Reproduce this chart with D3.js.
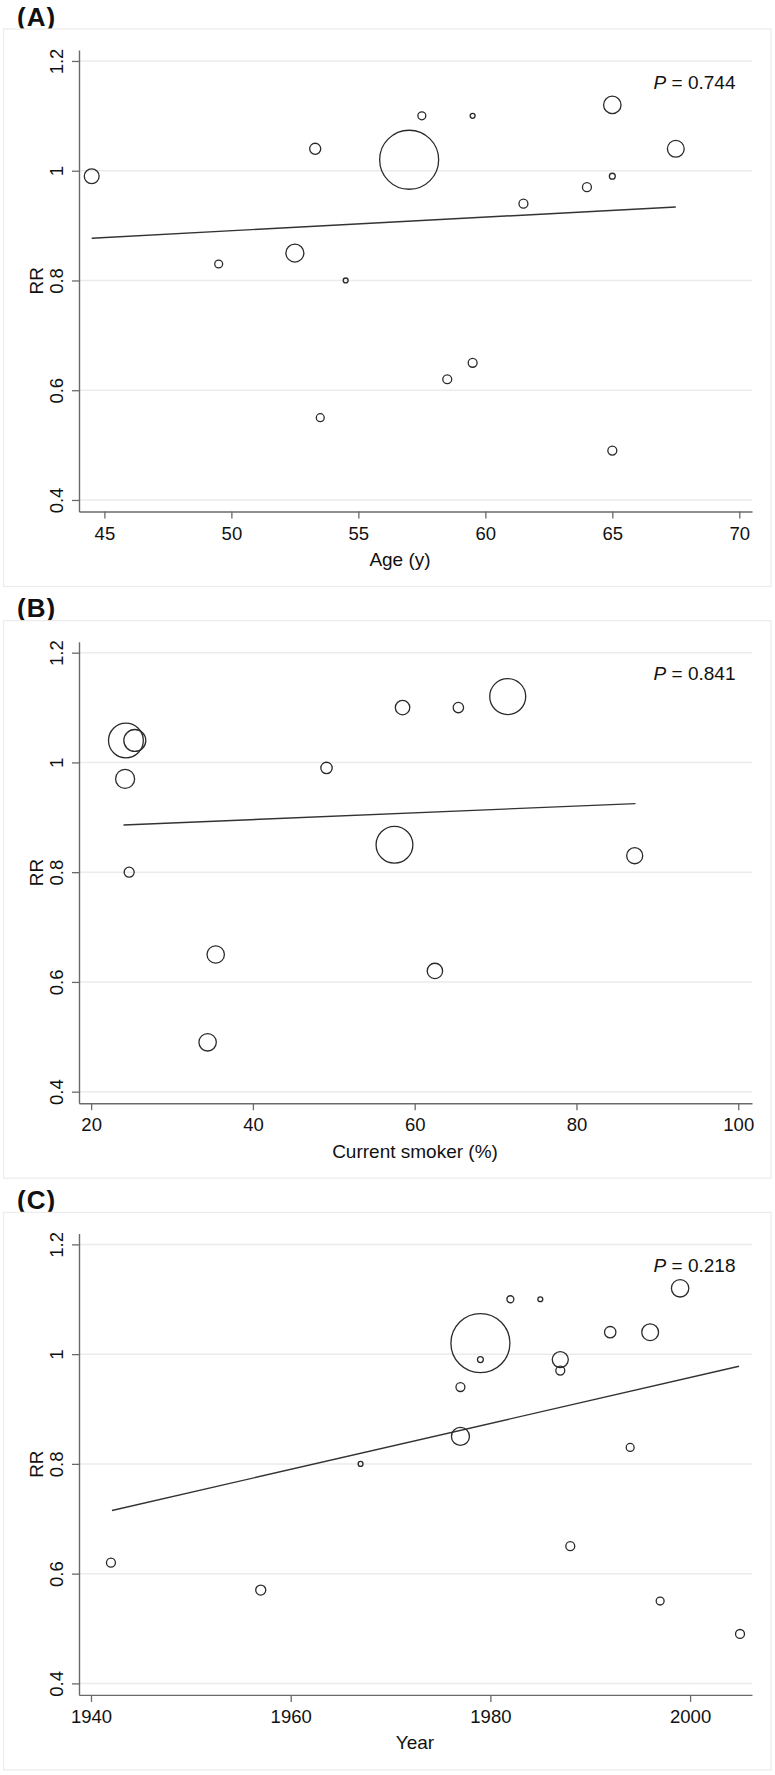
<html>
<head>
<meta charset="utf-8">
<script src="https://d3js.org/d3.v7.min.js"></script>
<style>
  body { margin: 0; background: #fff; }
  text { font-family: "Liberation Sans", Arial, Helvetica, sans-serif; fill: #111; }
</style>
</head>
<body>
<script>
// ---- data ----
var rrTicks = [0.4, 0.6, 0.8, 1, 1.2];

// (A) age
var ageX  = [44.5, 49.5, 52.5, 53.3, 53.5, 54.5, 57, 57.5, 58.5, 59.5, 59.5, 61.5, 64, 65, 65, 65, 67.5];
var ageRR = [0.99, 0.83, 0.85, 1.04, 0.55, 0.80, 1.02, 1.10, 0.62, 1.10, 0.65, 0.94, 0.97, 0.99, 1.12, 0.49, 1.04];
var ageW  = [6.3, 1.8, 9.3, 3.5, 1.8, 0.7, 100, 1.8, 2.3, 0.7, 2.3, 2.3, 2.3, 1.0, 8.7, 2.3, 8.1];
var ageFitX = [44.5, 67.5], ageFitRR = [0.877, 0.934];
var ageTicks = [45, 50, 55, 60, 65, 70];

// (B) current smoker
var smkX  = [24.3, 25.4, 24.2, 24.7, 35.4, 34.4, 49.1, 58.5, 57.5, 62.5, 65.4, 71.5, 87.2];
var smkRR = [1.04, 1.04, 0.97, 0.80, 0.65, 0.49, 0.99, 1.10, 0.85, 0.62, 1.10, 1.12, 0.83];
var smkW  = [34.8, 13.9, 10.4, 2.9, 8.7, 8.7, 3.7, 6.0, 38.9, 6.8, 3.1, 37.2, 7.4];
var smkFitX = [24, 87.3], smkFitRR = [0.886, 0.925];
var smkTicks = [20, 40, 60, 80, 100];

// (C) year
var yrX  = [1942, 1957, 1967, 1977, 1977, 1979, 1979, 1982, 1985, 1987, 1987, 1988, 1992, 1994, 1996, 1997, 1999, 2005];
var yrRR = [0.62, 0.57, 0.80, 0.94, 0.85, 1.02, 0.99, 1.10, 1.10, 0.99, 0.97, 0.65, 1.04, 0.83, 1.04, 0.55, 1.12, 0.49];
var yrW  = [2.3, 2.9, 0.7, 2.3, 9.3, 100, 1.0, 1.4, 0.7, 7.4, 2.3, 2.3, 3.7, 1.8, 8.1, 1.8, 8.7, 2.3];
var yrFitX = [1942.1, 2004.9], yrFitRR = [0.715, 0.978];
var yrTicks = [1940, 1960, 1980, 2000];

var panels = [
  { tag: "(A)", x: ageX, y: ageRR, w: ageW, fx: ageFitX, fy: ageFitRR, ticks: ageTicks,
    dom: [44, 70.5], xtitle: "Age (y)", tx: 400, p: "0.744" },
  { tag: "(B)", x: smkX, y: smkRR, w: smkW, fx: smkFitX, fy: smkFitRR, ticks: smkTicks,
    dom: [18.5, 101.7], xtitle: "Current smoker (%)", tx: 415, p: "0.841" },
  { tag: "(C)", x: yrX, y: yrRR, w: yrW, fx: yrFitX, fy: yrFitRR, ticks: yrTicks,
    dom: [1938.8, 2006.2], xtitle: "Year", tx: 415, p: "0.218" }
];

var width = 775, height = 1775, step = 591.7;
var plotL = 79, plotR = 752, plotT = 50, plotB = 511.5;

var svg = d3.select("body").append("svg")
  .attr("width", width)
  .attr("height", height);

var rScale = d3.scaleSqrt().domain([0, 100]).range([0, 29.5]);

panels.forEach(function(p, i) {
  var g = svg.append("g").attr("transform", "translate(0," + (i * step) + ")");

  g.append("text")
    .attr("x", 17).attr("y", 25.5)
    .style("font-size", "26px").style("font-weight", "bold")
    .style("letter-spacing", "1px")
    .text(p.tag);

  // panel frame
  g.append("rect")
    .attr("x", 3.5).attr("y", 29)
    .attr("width", 767.5).attr("height", 557.5)
    .attr("fill", "#fff").attr("stroke", "#ececec").attr("stroke-width", 1.2);

  var x = d3.scaleLinear().domain(p.dom).range([plotL, plotR]);
  var y = d3.scaleLinear().domain([0.379, 1.22]).range([plotB, plotT]);

  // gridlines
  g.append("g").selectAll("line")
    .data(rrTicks).enter().append("line")
    .attr("x1", plotL).attr("x2", plotR)
    .attr("y1", function(d) { return y(d); })
    .attr("y2", function(d) { return y(d); })
    .attr("stroke", "#ebebeb").attr("stroke-width", 1.5);

  // y axis
  var ya = g.append("g").attr("transform", "translate(" + plotL + ",0)")
    .call(d3.axisLeft(y).tickValues(rrTicks).tickSize(7).tickSizeOuter(0)
      .tickFormat(function(d) { return String(d); }));
  ya.selectAll("text")
    .attr("transform", "rotate(-90)")
    .attr("x", 0).attr("y", -16).attr("dy", 0)
    .attr("text-anchor", "middle")
    .style("font-size", "18.5px").style("fill", "#111");

  // x axis
  var xa = g.append("g").attr("transform", "translate(0," + plotB + ")")
    .call(d3.axisBottom(x).tickValues(p.ticks).tickSize(7).tickSizeOuter(0).tickPadding(8)
      .tickFormat(function(d) { return String(d); }));
  xa.selectAll("text").style("font-size", "18.5px").style("fill", "#111");

  [ya, xa].forEach(function(a) {
    a.select(".domain").attr("stroke", "#6a6a6a").attr("stroke-width", 1.4);
    a.selectAll(".tick line").attr("stroke", "#6a6a6a").attr("stroke-width", 1.3);
  });

  // axis titles
  g.append("text")
    .attr("transform", "translate(43," + ((plotT + plotB) / 2) + ") rotate(-90)")
    .attr("text-anchor", "middle")
    .style("font-size", "19px")
    .text("RR");
  g.append("text")
    .attr("x", p.tx).attr("y", 566)
    .attr("text-anchor", "middle")
    .style("font-size", "19px")
    .text(p.xtitle);

  // fitted meta-regression line
  var fit = p.fx.map(function(d, j) { return [d, p.fy[j]]; });
  g.append("path")
    .datum(fit)
    .attr("d", d3.line().x(function(d) { return x(d[0]); }).y(function(d) { return y(d[1]); }))
    .attr("fill", "none").attr("stroke", "#333").attr("stroke-width", 1.4);

  // study bubbles
  var pts = p.x.map(function(d, j) { return { x: d, y: p.y[j], w: p.w[j] }; });
  g.append("g").selectAll("circle")
    .data(pts).enter().append("circle")
    .attr("cx", function(d) { return x(d.x); })
    .attr("cy", function(d) { return y(d.y); })
    .attr("r", function(d) { return rScale(d.w); })
    .attr("fill", "none").attr("stroke", "#2a2a2a").attr("stroke-width", 1.3);

  // P value
  var pt = g.append("text")
    .attr("x", 735.5).attr("y", 88.5)
    .attr("text-anchor", "end")
    .style("font-size", "19px");
  pt.append("tspan").style("font-style", "italic").text("P");
  pt.append("tspan").text(" = " + p.p);
});
</script>
</body>
</html>
